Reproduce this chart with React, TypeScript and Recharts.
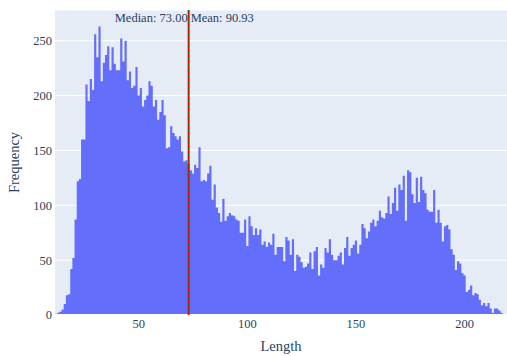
import {
  ComposedChart,
  Area,
  XAxis,
  YAxis,
  CartesianGrid,
  ReferenceLine,
} from "recharts";

// one-unit bins of the length histogram, first bin centred on 12
const FIRST_BIN = 12;

const counts12to47 = [
  1, 2, 3, 5, 10, 18, 19, 42, 52, 87, 122, 124, 160, 160, 210, 195, 215, 205,
  256, 235, 263, 213, 230, 237, 245, 223, 244, 229, 223, 223, 252, 231, 250,
  214, 222, 207,
];
const counts48to81 = [
  209, 226, 200, 207, 190, 196, 200, 213, 209, 190, 196, 178, 185, 196, 182,
  152, 153, 172, 166, 163, 160, 163, 149, 140, 141, 138, 132, 129, 137, 134,
  153, 122, 123, 122,
];
const counts82to115 = [
  129, 136, 105, 119, 98, 93, 85, 106, 86, 90, 93, 91, 90, 87, 86, 75, 75, 87,
  63, 90, 81, 73, 79, 73, 78, 64, 67, 62, 66, 64, 74, 55, 62, 62,
];
const counts116to149 = [
  62, 49, 71, 68, 55, 69, 40, 55, 53, 48, 43, 44, 47, 57, 42, 58, 62, 36, 46,
  43, 61, 57, 69, 55, 50, 50, 54, 57, 46, 61, 71, 54, 61, 64,
];
const counts150to184 = [
  68, 56, 64, 83, 79, 70, 76, 84, 87, 81, 86, 95, 89, 88, 93, 108, 92, 102,
  116, 95, 119, 114, 127, 86, 132, 130, 110, 102, 125, 103, 126, 114, 111, 96,
  94,
];
const counts185to219 = [
  94, 114, 84, 96, 84, 67, 81, 82, 78, 60, 55, 41, 49, 47, 38, 36, 21, 23, 27,
  18, 20, 19, 14, 9, 11, 8, 11, 6, 2, 6, 6, 4, 2, 1, 1,
];

const xTicks = [50, 100, 150, 200];
const yTicks = [0, 50, 100, 150, 200, 250];

const median = 73;
const mean = 90.93;

const counts = [
  ...counts12to47,
  ...counts48to81,
  ...counts82to115,
  ...counts116to149,
  ...counts150to184,
  ...counts185to219,
];

// step area: one point per bin left edge, plus the closing right edge
const histData = counts.map((n, i) => ({ x: FIRST_BIN + i - 0.5, count: n }));
histData.push({
  x: FIRST_BIN + counts.length - 0.5,
  count: counts[counts.length - 1],
});

const FONT = "'Liberation Serif', 'Times New Roman', serif";
const TEXT = "#2a3f5f";

function lineLabel(text: string, side: "left" | "right") {
  // eslint-disable-next-line @typescript-eslint/no-explicit-any
  return (props: any) => {
    const vb = props.viewBox;
    return (
      <text
        x={side === "left" ? vb.x - 1 : vb.x + 2}
        y={vb.y + 12}
        textAnchor={side === "left" ? "end" : "start"}
        fontFamily={FONT}
        fontSize={12.5}
        fill={TEXT}
      >
        {text}
      </text>
    );
  };
}

export default function App() {
  return (
    <div style={{ position: "absolute", left: 0, top: 0, background: "#fff" }}>
      <ComposedChart
        width={507}
        height={356}
        data={histData}
        margin={{ top: 10, right: 0, bottom: 0, left: 0 }}
      >
        <CartesianGrid
          vertical={false}
          stroke="#ffffff"
          strokeWidth={1}
          fill="#E5ECF6"
          fillOpacity={1}
        />
        <XAxis
          dataKey="x"
          type="number"
          domain={[FIRST_BIN - 0.5, FIRST_BIN + counts.length - 0.5]}
          ticks={xTicks}
          allowDataOverflow
          height={41}
          tickLine={false}
          axisLine={false}
          tickSize={0}
          tickMargin={4}
          tick={{ fill: TEXT, fontSize: 12.5, fontFamily: FONT }}
          label={{
            value: "Length",
            position: "insideBottom",
            offset: 5,
            fill: TEXT,
            fontSize: 14.5,
            fontFamily: FONT,
          }}
        />
        <YAxis
          domain={[0, 278]}
          ticks={yTicks}
          allowDataOverflow
          width={55}
          tickLine={false}
          axisLine={false}
          tickSize={0}
          tickMargin={3}
          tick={{ fill: TEXT, fontSize: 12.5, fontFamily: FONT }}
          label={{
            value: "Frequency",
            angle: -90,
            position: "insideLeft",
            offset: 14,
            fill: TEXT,
            fontSize: 14.5,
            fontFamily: FONT,
            style: { textAnchor: "middle" },
          }}
        />
        <Area
          type="stepAfter"
          dataKey="count"
          stroke="none"
          fill="#636efa"
          fillOpacity={1}
          isAnimationActive={false}
          activeDot={false}
          dot={false}
        />
        <ReferenceLine y={0} stroke="#ffffff" strokeWidth={2} />
        <ReferenceLine
          x={median}
          stroke="red"
          strokeWidth={2}
          strokeDasharray="3 3"
          label={lineLabel(`Median: ${median.toFixed(2)}`, "left")}
        />
        {/* the source figure placed its mean marker on the median position */}
        <ReferenceLine
          x={median}
          stroke="green"
          strokeWidth={2}
          strokeDasharray="3 3"
          strokeDashoffset={3}
          label={lineLabel(`Mean: ${mean.toFixed(2)}`, "right")}
        />
      </ComposedChart>
    </div>
  );
}
